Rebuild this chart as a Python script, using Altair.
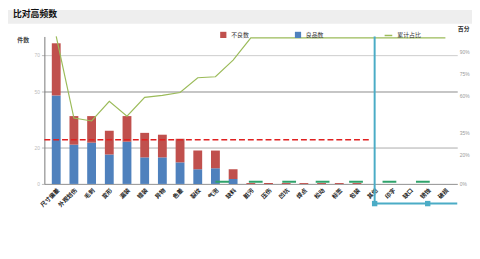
import altair as alt
import pandas as pd

cats = ["尺寸偏差", "外观划伤", "毛刺", "变形", "漏装", "错装", "异物", "色差", "裂纹", "气泡", "缺料",
        "脏污", "压伤", "凹坑", "焊点", "松动", "标签", "包装", "其他", "印字", "缺口", "锈蚀", "破损"]
blue_vals = [48, 21.3, 22.4, 16, 22.9, 14.4, 14.4, 11.7, 8, 8.5, 2.7, 0, 0, 0, 0, 0, 0, 0, 0, 0, 0, 0, 0]
red_vals = [28.3, 15.5, 14.4, 12.8, 13.9, 13.3, 12.3, 12.8, 10.1, 9.6, 5.3, 0.5, 0.5, 0.5, 0.5, 0.5, 0.5, 0.5, 0, 0, 0, 0, 0]
rate_vals = [1.0, 0.447, 0.427, 0.56, 0.46, 0.587, 0.6, 0.62, 0.72, 0.727, 0.84, 0.99, 0.99, 0.99, 0.99,
             0.99, 0.99, 0.99, 0.99, 0.99, 0.99, 0.99, 0.99]
green_cats = cats[9:]
green_vals = [1.2] * len(green_cats)
target_val = 24
marker_cats = [cats[18], cats[21]]

bar_rows = []
for i, c in enumerate(cats):
    bar_rows.append({"cat": c, "type": "良品数", "v": blue_vals[i], "o": 0})
    bar_rows.append({"cat": c, "type": "不良数", "v": red_vals[i], "o": 1})
bars_df = pd.DataFrame(bar_rows)
rate_df = pd.DataFrame({"cat": cats, "rate": rate_vals, "s": ["累计占比"] * len(cats)})
green_df = pd.DataFrame({"cat": green_cats, "v": green_vals})
target_df = pd.DataFrame({"v": [target_val]})
marker_df = pd.DataFrame({"cat": marker_cats})

W, H = 420, 150
xscale = alt.Scale(domain=cats, paddingInner=0.5, paddingOuter=0.42)
xaxis = alt.Axis(title=None, labelAngle=-45, labelFontSize=6, labelColor="#222", labelFont="Noto Sans CJK SC",
                 labelFontWeight="bold", ticks=False, domainColor="#999", labelPadding=3)
yscale = alt.Scale(domain=[0, 80])
yaxis = alt.Axis(title="件数", titleAngle=0, titleX=-22, titleY=6, titleFontSize=6, titleFont="Noto Sans CJK SC",
                 titleColor="#444", values=[0, 20, 50, 70], labelFontSize=5, labelColor="#bbb",
                 domainColor="#777", tickColor="#bbb", tickSize=3,
                 gridColor={"condition": [{"test": "datum.value === 50", "value": "#8a8a8a"},
                                          {"test": "datum.value === 20", "value": "#aaaaaa"}],
                            "value": "#cccccc"})

band = alt.Chart(pd.DataFrame({"a": [0]})).mark_rect(color="#eeeeee").encode(
    x=alt.value(-37), x2=alt.value(W + 15), y=alt.value(-27), y2=alt.value(-13))

bars = alt.Chart(bars_df).mark_bar().encode(
    x=alt.X("cat:N", scale=xscale, axis=xaxis, sort=cats),
    y=alt.Y("v:Q", scale=yscale, axis=yaxis, stack="zero"),
    color=alt.Color("type:N", scale=alt.Scale(domain=["不良数", "良品数"], range=["#c0504d", "#4f81bd"]),
                    legend=alt.Legend(title=None, orient="none", legendX=178, legendY=-6, direction="horizontal",
                                      symbolType="square", symbolSize=40, labelFontSize=6, columnPadding=45,
                                      labelFont="Noto Sans CJK SC", labelColor="#333")),
    order=alt.Order("o:Q"),
)

target = alt.Chart(target_df).mark_rule(color="#e02020", strokeDash=[6, 3], strokeWidth=1.5).encode(
    y=alt.Y("v:Q", scale=yscale, axis=yaxis), x=alt.value(0), x2=alt.value(332))

green = alt.Chart(green_df).mark_line(color="#2fa36b", strokeDash=[14, 20], strokeWidth=2).encode(
    x=alt.X("cat:N", scale=xscale, axis=xaxis, sort=cats),
    y=alt.Y("v:Q", scale=yscale, axis=yaxis))

left = alt.layer(bars, target, green)

line = alt.Chart(rate_df).mark_line(strokeWidth=1.2).encode(
    x=alt.X("cat:N", scale=xscale, axis=xaxis, sort=cats),
    y=alt.Y("rate:Q", scale=alt.Scale(domain=[0, 1]),
            axis=alt.Axis(title="百分", titleAngle=0, titleX=6, titleY=-5, titleFontSize=6,
                          titleFont="Noto Sans CJK SC", titleColor="#333", orient="right",
                          values=[0, 0.2, 0.35, 0.6, 0.75, 0.9], format=".0%", labelFontSize=5,
                          labelColor="#999", domain=False, ticks=False, grid=False)),
    color=alt.Color("s:N", scale=alt.Scale(domain=["累计占比"], range=["#9bbb59"]),
                    legend=alt.Legend(title=None, orient="none", legendX=345, legendY=-6, symbolType="stroke",
                                      labelFontSize=6, labelFont="Noto Sans CJK SC", labelColor="#333",
                                      symbolSize=60)),
)

vline = alt.Chart(marker_df.head(1)).mark_rule(color="#4bacc6", strokeWidth=2).encode(
    x=alt.X("cat:N", scale=xscale, axis=xaxis, sort=cats), y=alt.value(0), y2=alt.value(H + 20))
hline = alt.Chart(marker_df.head(1)).mark_rule(color="#4bacc6", strokeWidth=2).encode(
    x=alt.X("cat:N", scale=xscale, axis=xaxis, sort=cats), x2=alt.value(W), y=alt.value(H + 20))
squares = alt.Chart(marker_df).mark_square(color="#4bacc6", size=30, opacity=1).encode(
    x=alt.X("cat:N", scale=xscale, axis=xaxis, sort=cats), y=alt.value(H + 20))

chart = alt.layer(band, left, line, vline, hline, squares).resolve_scale(
    y="independent", color="independent"
).properties(
    width=W, height=H,
    autosize=alt.AutoSizeParams(type="none"),
    padding={"left": 37, "top": 27, "right": 15, "bottom": 50},
    title=alt.TitleParams("比对高频数", anchor="start", fontSize=9, fontWeight="bold", dx=5, offset=0, dy=9,
                          font="Noto Sans CJK SC", color="#111"),
).configure_view(stroke=None)

chart.save("out.html", embed_options={"renderer": "svg", "actions": False})
